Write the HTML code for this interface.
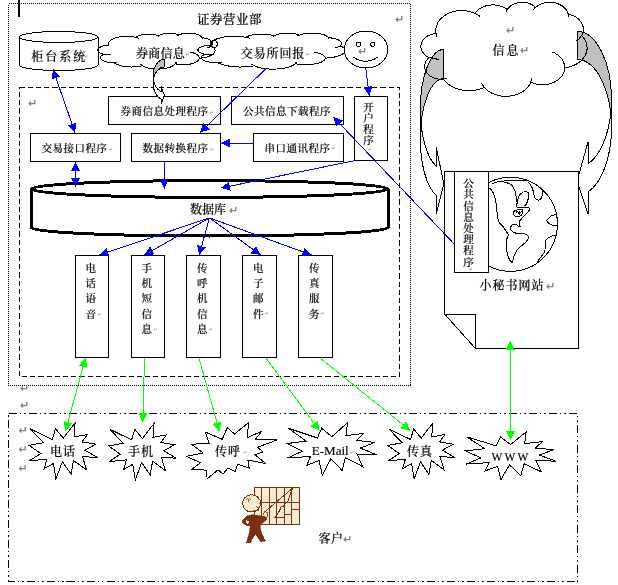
<!DOCTYPE html><html><head><meta charset="utf-8"><style>html,body{margin:0;padding:0;background:#fff;overflow:hidden}svg{display:block}</style></head><body><svg width="618" height="585" viewBox="0 0 618 585" shape-rendering="crispEdges">
<rect x="0" y="0" width="618" height="585" fill="#fff"/>
<rect x="18" y="0" width="2" height="17" fill="#000"/>
<rect x="8.5" y="3.5" width="402.0" height="382.0" fill="none" stroke="#000" stroke-width="1" stroke-dasharray="1 1" shape-rendering="crispEdges"/>
<rect x="19.5" y="87.5" width="380.0" height="289.0" fill="none" stroke="#000" stroke-width="1" stroke-dasharray="5.2 3" shape-rendering="crispEdges"/>
<rect x="8.5" y="413.5" width="569.0" height="168.0" fill="none" stroke="#000" stroke-width="1" stroke-dasharray="8 3 1.5 3 1.5 3" shape-rendering="crispEdges"/>
<path d="M19.5,37 L19.5,65 A39.25,5.5 0 0 0 98,65 L98,37 A39.25,5.5 0 0 0 19.5,37 A39.25,5.5 0 0 0 98,37" fill="#fff" stroke="#000"/>
<path d="M108.6,45.0 L108.4,44.3 L108.4,43.6 L108.6,42.8 L108.9,42.1 L109.4,41.5 L110.0,40.8 L110.8,40.2 L111.7,39.6 L112.7,39.0 L113.9,38.5 L115.2,38.0 L116.5,37.6 L118.0,37.2 L119.5,36.9 L121.1,36.6 L122.8,36.5 L124.5,36.3 L126.2,36.3 L127.9,36.3 L129.6,36.4 L131.2,36.5 L132.8,36.7 L134.4,37.0 L135.9,37.3 L136.5,36.9 L137.1,36.5 L137.8,36.2 L138.6,35.8 L139.4,35.5 L140.3,35.2 L141.3,35.0 L142.2,34.8 L143.3,34.6 L144.3,34.4 L145.4,34.3 L146.5,34.2 L147.6,34.1 L148.7,34.1 L149.8,34.1 L151.0,34.2 L152.0,34.3 L153.1,34.4 L154.2,34.6 L155.2,34.8 L156.2,35.0 L157.1,35.3 L158.0,35.5 L158.8,35.9 L159.3,35.5 L159.9,35.1 L160.5,34.8 L161.2,34.5 L161.9,34.2 L162.7,34.0 L163.6,33.8 L164.4,33.6 L165.4,33.4 L166.3,33.3 L167.3,33.2 L168.3,33.1 L169.3,33.1 L170.3,33.1 L171.3,33.2 L172.2,33.3 L173.2,33.4 L174.1,33.5 L175.0,33.7 L175.9,33.9 L176.7,34.2 L177.5,34.4 L178.2,34.7 L178.8,35.1 L179.6,34.7 L180.6,34.3 L181.6,34.0 L182.6,33.8 L183.7,33.6 L184.9,33.4 L186.1,33.2 L187.3,33.2 L188.6,33.1 L189.8,33.1 L191.0,33.2 L192.2,33.3 L193.4,33.5 L194.6,33.7 L195.7,33.9 L196.7,34.2 L197.6,34.5 L198.5,34.9 L199.3,35.3 L200.0,35.7 L200.6,36.2 L201.1,36.7 L201.5,37.1 L201.8,37.6 L202.8,37.8 L203.7,37.9 L204.6,38.1 L205.5,38.3 L206.4,38.6 L207.2,38.8 L208.0,39.1 L208.7,39.4 L209.4,39.8 L210.0,40.1 L210.5,40.5 L211.0,40.9 L211.4,41.3 L211.7,41.7 L212.0,42.1 L212.2,42.5 L212.4,42.9 L212.4,43.4 L212.4,43.8 L212.3,44.2 L212.2,44.6 L211.9,45.1 L211.6,45.5 L211.3,45.9 L212.2,46.4 L213.0,47.0 L213.6,47.6 L214.2,48.2 L214.6,48.9 L214.9,49.5 L215.0,50.2 L215.0,50.9 L214.9,51.5 L214.6,52.2 L214.2,52.8 L213.7,53.5 L213.0,54.1 L212.2,54.6 L211.3,55.2 L210.3,55.7 L209.2,56.2 L208.0,56.6 L206.7,57.0 L205.3,57.3 L203.9,57.6 L202.4,57.9 L200.9,58.0 L199.3,58.2 L199.2,58.7 L199.0,59.3 L198.7,59.9 L198.3,60.4 L197.7,61.0 L197.1,61.5 L196.3,62.0 L195.5,62.4 L194.5,62.8 L193.5,63.2 L192.4,63.6 L191.2,63.9 L189.9,64.1 L188.6,64.3 L187.3,64.5 L186.0,64.6 L184.6,64.7 L183.2,64.7 L181.8,64.6 L180.5,64.5 L179.1,64.4 L177.8,64.2 L176.5,64.0 L175.3,63.7 L174.8,64.4 L174.0,65.0 L173.2,65.6 L172.2,66.2 L171.0,66.8 L169.8,67.3 L168.4,67.7 L167.0,68.1 L165.5,68.4 L163.9,68.7 L162.2,68.9 L160.5,69.0 L158.8,69.1 L157.1,69.1 L155.4,69.1 L153.7,68.9 L152.0,68.7 L150.4,68.5 L148.9,68.2 L147.4,67.8 L146.1,67.3 L144.8,66.8 L143.7,66.3 L142.6,65.7 L141.4,66.0 L140.2,66.3 L138.9,66.5 L137.6,66.6 L136.2,66.8 L134.8,66.9 L133.5,66.9 L132.1,67.0 L130.7,67.0 L129.3,66.9 L127.9,66.8 L126.6,66.7 L125.3,66.5 L124.0,66.3 L122.7,66.1 L121.5,65.8 L120.3,65.5 L119.2,65.2 L118.1,64.8 L117.1,64.4 L116.1,64.0 L115.3,63.5 L114.5,63.1 L113.7,62.6 L112.5,62.6 L111.3,62.6 L110.1,62.5 L109.0,62.4 L107.8,62.2 L106.8,62.0 L105.7,61.7 L104.8,61.4 L103.9,61.1 L103.1,60.7 L102.4,60.3 L101.8,59.9 L101.3,59.4 L100.9,58.9 L100.7,58.5 L100.6,58.0 L100.5,57.5 L100.7,57.0 L100.9,56.5 L101.2,56.0 L101.7,55.5 L102.3,55.1 L102.9,54.7 L103.7,54.3 L102.7,54.0 L101.7,53.7 L100.9,53.3 L100.1,52.9 L99.4,52.5 L98.9,52.0 L98.5,51.5 L98.1,51.0 L98.0,50.5 L97.9,50.0 L98.0,49.5 L98.2,49.0 L98.5,48.5 L98.9,48.0 L99.5,47.5 L100.2,47.1 L101.0,46.7 L101.8,46.3 L102.8,46.0 L103.8,45.7 L104.9,45.5 L106.1,45.3 L107.2,45.2 L108.5,45.1Z" fill="none" stroke="#000" stroke-width="1"/>
<path d="M110.7,54.8 L109.8,54.8 L108.9,54.8 L108.0,54.8 L107.2,54.7 L106.3,54.6 L105.5,54.5 L104.6,54.3 L103.8,54.1 M116.8,62.1 L116.4,62.1 L116.0,62.2 L115.7,62.2 L115.3,62.3 L114.9,62.3 L114.5,62.4 L114.1,62.4 L113.8,62.4 M142.6,65.6 L142.4,65.4 L142.1,65.2 L141.9,65.1 L141.6,64.9 L141.4,64.7 L141.2,64.5 L141.0,64.3 L140.8,64.1 M176.1,62.0 L176.0,62.2 L176.0,62.4 L175.9,62.6 L175.8,62.8 L175.7,63.0 L175.6,63.2 L175.5,63.4 L175.4,63.6 M190.4,52.1 L192.3,52.6 L194.1,53.2 L195.6,53.8 L196.9,54.6 L197.9,55.4 L198.7,56.3 L199.1,57.2 L199.2,58.1 M211.2,45.8 L210.9,46.1 L210.5,46.4 L210.0,46.7 L209.6,47.0 L209.0,47.3 L208.5,47.5 L207.9,47.8 L207.3,48.0 M201.8,37.5 L201.8,37.7 L201.9,37.8 L201.9,37.9 L202.0,38.0 L202.0,38.2 L202.0,38.3 L202.0,38.4 L202.0,38.6 M176.8,36.3 L177.0,36.1 L177.2,35.9 L177.4,35.8 L177.6,35.6 L177.9,35.4 L178.2,35.3 L178.5,35.1 L178.8,35.0 M158.0,36.9 L158.0,36.8 L158.1,36.6 L158.2,36.5 L158.4,36.3 L158.5,36.2 L158.6,36.1 L158.8,35.9 L158.9,35.8 M135.9,37.3 L136.4,37.4 L136.9,37.6 L137.3,37.7 L137.8,37.8 L138.2,38.0 L138.6,38.1 L139.0,38.3 L139.4,38.5 M109.2,46.2 L109.1,46.0 L109.0,45.9 L108.9,45.7 L108.8,45.6 L108.7,45.4 L108.7,45.3 L108.6,45.1 L108.6,45.0" fill="none" stroke="#000" stroke-width="1"/>
<path d="M211.3,45.0 L211.1,44.3 L211.1,43.6 L211.3,42.8 L211.7,42.1 L212.3,41.5 L213.1,40.8 L214.1,40.2 L215.2,39.6 L216.5,39.0 L218.0,38.5 L219.6,38.0 L221.3,37.6 L223.1,37.2 L225.1,36.9 L227.1,36.6 L229.1,36.5 L231.2,36.3 L233.4,36.3 L235.5,36.3 L237.6,36.4 L239.7,36.5 L241.8,36.7 L243.8,37.0 L245.7,37.3 L246.4,36.9 L247.2,36.5 L248.0,36.2 L249.0,35.8 L250.1,35.5 L251.2,35.2 L252.4,35.0 L253.6,34.8 L254.9,34.6 L256.2,34.4 L257.5,34.3 L258.9,34.2 L260.3,34.1 L261.7,34.1 L263.1,34.1 L264.5,34.2 L265.9,34.3 L267.3,34.4 L268.6,34.6 L269.9,34.8 L271.1,35.0 L272.3,35.3 L273.4,35.5 L274.4,35.9 L275.0,35.5 L275.7,35.1 L276.5,34.8 L277.4,34.5 L278.3,34.2 L279.3,34.0 L280.4,33.8 L281.5,33.6 L282.6,33.4 L283.8,33.3 L285.1,33.2 L286.3,33.1 L287.6,33.1 L288.8,33.1 L290.1,33.2 L291.3,33.3 L292.5,33.4 L293.7,33.5 L294.8,33.7 L295.9,33.9 L296.9,34.2 L297.8,34.4 L298.7,34.7 L299.5,35.1 L300.6,34.7 L301.7,34.3 L303.0,34.0 L304.3,33.8 L305.7,33.6 L307.2,33.4 L308.7,33.2 L310.2,33.2 L311.8,33.1 L313.3,33.1 L314.9,33.2 L316.4,33.3 L317.9,33.5 L319.3,33.7 L320.7,33.9 L322.0,34.2 L323.2,34.5 L324.3,34.9 L325.3,35.3 L326.2,35.7 L326.9,36.2 L327.6,36.7 L328.0,37.1 L328.4,37.6 L329.6,37.8 L330.8,37.9 L332.0,38.1 L333.1,38.3 L334.2,38.6 L335.2,38.8 L336.2,39.1 L337.1,39.4 L337.9,39.8 L338.7,40.1 L339.4,40.5 L340.0,40.9 L340.5,41.3 L340.9,41.7 L341.3,42.1 L341.5,42.5 L341.7,42.9 L341.8,43.4 L341.7,43.8 L341.6,44.2 L341.4,44.6 L341.1,45.1 L340.8,45.5 L340.3,45.9 L341.4,46.4 L342.4,47.0 L343.3,47.6 L344.0,48.2 L344.5,48.9 L344.9,49.5 L345.0,50.2 L345.1,50.9 L344.9,51.5 L344.5,52.2 L344.0,52.8 L343.4,53.5 L342.5,54.1 L341.5,54.6 L340.4,55.2 L339.1,55.7 L337.7,56.2 L336.2,56.6 L334.6,57.0 L332.9,57.3 L331.0,57.6 L329.2,57.9 L327.2,58.0 L325.3,58.2 L325.2,58.7 L324.9,59.3 L324.5,59.9 L324.0,60.4 L323.3,61.0 L322.5,61.5 L321.5,62.0 L320.5,62.4 L319.3,62.8 L318.0,63.2 L316.6,63.6 L315.1,63.9 L313.5,64.1 L311.9,64.3 L310.2,64.5 L308.5,64.6 L306.8,64.7 L305.0,64.7 L303.3,64.6 L301.6,64.5 L299.9,64.4 L298.3,64.2 L296.7,64.0 L295.2,63.7 L294.4,64.4 L293.5,65.0 L292.4,65.6 L291.2,66.2 L289.8,66.8 L288.2,67.3 L286.5,67.7 L284.7,68.1 L282.8,68.4 L280.8,68.7 L278.7,68.9 L276.6,69.0 L274.4,69.1 L272.2,69.1 L270.1,69.1 L268.0,68.9 L265.9,68.7 L263.9,68.5 L261.9,68.2 L260.1,67.8 L258.4,67.3 L256.8,66.8 L255.4,66.3 L254.1,65.7 L252.6,66.0 L251.0,66.3 L249.4,66.5 L247.7,66.6 L246.0,66.8 L244.3,66.9 L242.6,66.9 L240.8,67.0 L239.1,67.0 L237.3,66.9 L235.6,66.8 L233.9,66.7 L232.3,66.5 L230.6,66.3 L229.0,66.1 L227.5,65.8 L226.0,65.5 L224.6,65.2 L223.2,64.8 L222.0,64.4 L220.8,64.0 L219.7,63.5 L218.7,63.1 L217.8,62.6 L216.2,62.6 L214.7,62.6 L213.2,62.5 L211.8,62.4 L210.4,62.2 L209.0,62.0 L207.7,61.7 L206.5,61.4 L205.4,61.1 L204.4,60.7 L203.5,60.3 L202.8,59.9 L202.2,59.4 L201.7,58.9 L201.4,58.5 L201.2,58.0 L201.2,57.5 L201.3,57.0 L201.6,56.5 L202.1,56.0 L202.6,55.5 L203.4,55.1 L204.2,54.7 L205.2,54.3 L203.9,54.0 L202.7,53.7 L201.6,53.3 L200.7,52.9 L199.8,52.5 L199.1,52.0 L198.6,51.5 L198.2,51.0 L198.0,50.5 L197.9,50.0 L198.0,49.5 L198.2,49.0 L198.6,48.5 L199.2,48.0 L199.9,47.5 L200.7,47.1 L201.7,46.7 L202.8,46.3 L204.0,46.0 L205.3,45.7 L206.7,45.5 L208.1,45.3 L209.6,45.2 L211.1,45.1Z" fill="none" stroke="#000" stroke-width="1"/>
<path d="M214.0,54.8 L212.8,54.8 L211.7,54.8 L210.6,54.8 L209.5,54.7 L208.4,54.6 L207.4,54.5 L206.3,54.3 L205.3,54.1 M221.6,62.1 L221.1,62.1 L220.7,62.2 L220.2,62.2 L219.7,62.3 L219.2,62.3 L218.8,62.4 L218.3,62.4 L217.8,62.4 M254.1,65.6 L253.7,65.4 L253.4,65.2 L253.1,65.1 L252.8,64.9 L252.5,64.7 L252.3,64.5 L252.0,64.3 L251.8,64.1 M296.1,62.0 L296.0,62.2 L296.0,62.4 L295.9,62.6 L295.8,62.8 L295.6,63.0 L295.5,63.2 L295.4,63.4 L295.2,63.6 M314.1,52.1 L316.5,52.6 L318.7,53.2 L320.6,53.8 L322.2,54.6 L323.5,55.4 L324.5,56.3 L325.0,57.2 L325.2,58.1 M340.2,45.8 L339.8,46.1 L339.3,46.4 L338.7,46.7 L338.2,47.0 L337.5,47.3 L336.8,47.5 L336.1,47.8 L335.3,48.0 M328.4,37.5 L328.5,37.7 L328.5,37.8 L328.6,37.9 L328.6,38.0 L328.6,38.2 L328.7,38.3 L328.7,38.4 L328.7,38.6 M296.9,36.3 L297.2,36.1 L297.5,35.9 L297.8,35.8 L298.1,35.6 L298.4,35.4 L298.7,35.3 L299.1,35.1 L299.5,35.0 M273.3,36.9 L273.4,36.8 L273.6,36.6 L273.7,36.5 L273.8,36.3 L274.0,36.2 L274.2,36.1 L274.4,35.9 L274.6,35.8 M245.6,37.3 L246.2,37.4 L246.8,37.6 L247.4,37.7 L248.0,37.8 L248.5,38.0 L249.0,38.1 L249.6,38.3 L250.1,38.5 M212.0,46.2 L211.9,46.0 L211.8,45.9 L211.7,45.7 L211.6,45.6 L211.5,45.4 L211.4,45.3 L211.3,45.1 L211.3,45.0" fill="none" stroke="#000" stroke-width="1"/>
<circle cx="213.8" cy="44" r="3.5" fill="none" stroke="#000"/>
<ellipse cx="366" cy="49.5" rx="21.8" ry="18.5" fill="#fff" stroke="#000"/>
<ellipse cx="358.5" cy="44.3" rx="2.2" ry="2" fill="#fff" stroke="#000"/>
<ellipse cx="372.8" cy="44.3" rx="2.2" ry="2" fill="#fff" stroke="#000"/>
<path d="M353,57 Q365.7,65.5 378,57" fill="none" stroke="#000"/>
<rect x="108.5" y="96.5" width="112.0" height="28.0" fill="#fff" stroke="#000" stroke-width="1"/>
<rect x="231.5" y="96.5" width="112.0" height="28.0" fill="#fff" stroke="#000" stroke-width="1"/>
<rect x="354.5" y="96.5" width="33.0" height="64.0" fill="#fff" stroke="#000" stroke-width="1"/>
<rect x="30.5" y="133.5" width="90.0" height="28.0" fill="#fff" stroke="#000" stroke-width="1"/>
<rect x="131.5" y="133.5" width="89.0" height="28.0" fill="#fff" stroke="#000" stroke-width="1"/>
<rect x="253.5" y="133.5" width="90.0" height="28.0" fill="#fff" stroke="#000" stroke-width="1"/>
<path d="M31,189 L31,227.6 A178.5,8.4 0 0 0 388,227.6 L388,189 A178.5,8.4 0 0 0 31,189 A178.5,8.4 0 0 0 388,189" fill="#fff" stroke="#000" stroke-width="3" stroke-linejoin="round"/>
<rect x="75.5" y="255.5" width="33.0" height="102.0" fill="#fff" stroke="#000" stroke-width="1"/>
<rect x="131.5" y="255.5" width="33.0" height="102.0" fill="#fff" stroke="#000" stroke-width="1"/>
<rect x="186.5" y="255.5" width="34.0" height="102.0" fill="#fff" stroke="#000" stroke-width="1"/>
<rect x="242.5" y="255.5" width="34.0" height="102.0" fill="#fff" stroke="#000" stroke-width="1"/>
<rect x="298.5" y="255.5" width="34.0" height="102.0" fill="#fff" stroke="#000" stroke-width="1"/>
<path d="M420.3,109.3 A23.5,59.9 0 0 0 436.3,166.1 L436.3,147.3 L443.8,184.1 L436.3,214.0 L436.3,195.4 A23.5,59.9 0 0 1 420.3,138.6 Z" fill="#fff" stroke="#000"/>
<path d="M443.8,78.7 A23.5,59.9 0 0 0 420.3,138.6 L420.3,109.3 A23.5,59.9 0 0 1 443.8,49.4 Z" fill="#c0c0c0" stroke="#000"/>
<path d="M611.5,99.3 A34.5,68.0 0 0 1 588.0,163.8 L588.0,142.0 L577.0,181.4 L588.0,213.7 L588.0,192.0 A34.5,68.0 0 0 0 611.5,127.5 Z" fill="#fff" stroke="#000"/>
<path d="M577.0,59.5 A34.5,68.0 0 0 1 611.5,127.5 L611.5,99.3 A34.5,68.0 0 0 0 577.0,31.3 Z" fill="#c0c0c0" stroke="#000"/>
<path d="M153.1,75.9 A11.3,16.5 0 0 0 161.0,91.6 L161.0,86.4 L164.4,95.4 L161.0,104.4 L161.0,99.1 A11.3,16.5 0 0 1 153.1,83.4 Z" fill="#fff" stroke="#000"/>
<path d="M164.4,66.9 A11.3,16.5 0 0 0 153.1,83.4 L153.1,75.9 A11.3,16.5 0 0 1 164.4,59.4 Z" fill="#c0c0c0" stroke="#000"/>
<path d="M436.0,33.3 L435.8,31.4 L435.8,29.6 L436.0,27.7 L436.5,25.9 L437.2,24.1 L438.0,22.3 L439.1,20.7 L440.4,19.1 L441.9,17.6 L443.6,16.3 L445.4,15.0 L447.3,13.9 L449.4,13.0 L451.6,12.2 L453.8,11.5 L456.2,11.0 L458.5,10.7 L460.9,10.6 L463.4,10.6 L465.8,10.8 L468.1,11.2 L470.4,11.7 L472.7,12.5 L474.8,13.3 L475.6,12.3 L476.5,11.3 L477.5,10.3 L478.6,9.4 L479.8,8.6 L481.0,7.8 L482.4,7.2 L483.8,6.6 L485.2,6.1 L486.7,5.7 L488.2,5.3 L489.8,5.1 L491.4,5.0 L493.0,4.9 L494.6,5.0 L496.1,5.1 L497.7,5.4 L499.2,5.7 L500.7,6.1 L502.1,6.6 L503.5,7.2 L504.9,7.9 L506.1,8.6 L507.3,9.5 L508.0,8.5 L508.8,7.6 L509.6,6.8 L510.6,6.0 L511.7,5.2 L512.8,4.6 L514.0,4.0 L515.3,3.5 L516.6,3.1 L517.9,2.8 L519.3,2.5 L520.7,2.4 L522.1,2.3 L523.5,2.3 L525.0,2.5 L526.3,2.7 L527.7,3.0 L529.0,3.4 L530.3,3.9 L531.5,4.4 L532.7,5.1 L533.7,5.8 L534.7,6.6 L535.6,7.4 L536.8,6.4 L538.1,5.5 L539.6,4.7 L541.1,4.0 L542.7,3.4 L544.3,3.0 L546.0,2.6 L547.7,2.4 L549.5,2.3 L551.3,2.4 L553.0,2.5 L554.7,2.8 L556.4,3.2 L558.0,3.8 L559.5,4.4 L561.0,5.2 L562.4,6.0 L563.6,7.0 L564.7,8.0 L565.7,9.1 L566.6,10.3 L567.3,11.5 L567.8,12.8 L568.2,14.1 L569.6,14.5 L571.0,14.9 L572.3,15.4 L573.6,15.9 L574.8,16.5 L576.0,17.2 L577.0,18.0 L578.1,18.8 L579.0,19.7 L579.9,20.6 L580.6,21.5 L581.3,22.5 L581.9,23.6 L582.4,24.6 L582.8,25.7 L583.1,26.8 L583.3,27.9 L583.3,29.0 L583.3,30.2 L583.2,31.3 L583.0,32.4 L582.6,33.5 L582.2,34.6 L581.7,35.6 L583.0,37.1 L584.1,38.6 L585.1,40.1 L585.9,41.8 L586.4,43.5 L586.8,45.2 L587.0,46.9 L587.1,48.7 L586.9,50.4 L586.5,52.1 L585.9,53.8 L585.2,55.4 L584.2,57.0 L583.1,58.5 L581.8,60.0 L580.4,61.3 L578.8,62.5 L577.1,63.7 L575.2,64.7 L573.3,65.6 L571.2,66.3 L569.1,66.9 L567.0,67.4 L564.7,67.7 L564.6,69.2 L564.4,70.7 L563.9,72.2 L563.3,73.6 L562.5,75.0 L561.6,76.4 L560.5,77.6 L559.3,78.8 L557.9,79.9 L556.5,80.9 L554.9,81.8 L553.2,82.6 L551.4,83.3 L549.6,83.8 L547.7,84.2 L545.8,84.5 L543.8,84.7 L541.9,84.7 L539.9,84.6 L538.0,84.3 L536.1,84.0 L534.2,83.5 L532.4,82.8 L530.7,82.1 L529.9,83.9 L528.9,85.6 L527.7,87.2 L526.2,88.8 L524.6,90.2 L522.9,91.5 L520.9,92.6 L518.9,93.7 L516.7,94.5 L514.4,95.2 L512.1,95.8 L509.7,96.1 L507.3,96.3 L504.8,96.3 L502.4,96.2 L500.0,95.8 L497.7,95.3 L495.4,94.6 L493.2,93.8 L491.1,92.8 L489.2,91.6 L487.4,90.4 L485.8,89.0 L484.3,87.4 L482.6,88.2 L480.8,88.8 L479.0,89.4 L477.1,89.8 L475.2,90.2 L473.3,90.5 L471.3,90.6 L469.4,90.7 L467.4,90.7 L465.4,90.5 L463.5,90.3 L461.6,90.0 L459.7,89.5 L457.8,89.0 L456.0,88.4 L454.3,87.7 L452.6,86.9 L451.0,86.0 L449.5,85.0 L448.1,84.0 L446.7,82.9 L445.5,81.7 L444.3,80.5 L443.3,79.2 L441.6,79.3 L439.9,79.2 L438.2,79.0 L436.6,78.7 L435.0,78.3 L433.4,77.7 L432.0,77.1 L430.6,76.3 L429.4,75.4 L428.2,74.4 L427.2,73.3 L426.4,72.2 L425.7,71.0 L425.2,69.8 L424.8,68.5 L424.6,67.2 L424.6,65.9 L424.8,64.6 L425.1,63.3 L425.6,62.0 L426.2,60.8 L427.1,59.7 L428.0,58.6 L429.1,57.6 L427.7,56.8 L426.3,56.0 L425.1,55.0 L424.0,54.0 L423.1,52.8 L422.3,51.6 L421.7,50.4 L421.2,49.1 L420.9,47.7 L420.9,46.4 L421.0,45.0 L421.2,43.7 L421.7,42.4 L422.3,41.1 L423.1,39.9 L424.1,38.8 L425.2,37.7 L426.4,36.8 L427.8,35.9 L429.2,35.2 L430.8,34.6 L432.4,34.1 L434.1,33.8 L435.8,33.6Z" fill="none" stroke="#000" stroke-width="1"/>
<path d="M439.0,59.0 L437.8,59.0 L436.5,59.0 L435.2,58.9 L434.0,58.7 L432.8,58.4 L431.6,58.1 L430.4,57.7 L429.3,57.2 M447.6,77.9 L447.1,78.1 L446.6,78.2 L446.1,78.3 L445.5,78.5 L445.0,78.6 L444.5,78.6 L443.9,78.7 L443.4,78.8 M484.3,87.1 L483.9,86.6 L483.6,86.2 L483.2,85.7 L482.9,85.2 L482.6,84.7 L482.3,84.3 L482.0,83.8 L481.8,83.3 M531.8,77.6 L531.7,78.1 L531.6,78.7 L531.5,79.2 L531.4,79.7 L531.3,80.2 L531.1,80.7 L530.9,81.3 L530.7,81.8 M552.1,51.9 L554.9,53.1 L557.3,54.6 L559.5,56.4 L561.3,58.3 L562.8,60.4 L563.8,62.7 L564.4,65.1 L564.6,67.5 M581.6,35.4 L581.1,36.2 L580.6,37.0 L579.9,37.8 L579.3,38.6 L578.5,39.3 L577.8,40.0 L576.9,40.6 L576.0,41.2 M568.3,13.8 L568.3,14.1 L568.4,14.5 L568.5,14.8 L568.5,15.2 L568.5,15.5 L568.5,15.9 L568.6,16.2 L568.6,16.6 M532.7,10.6 L533.0,10.1 L533.3,9.7 L533.6,9.2 L534.0,8.8 L534.4,8.3 L534.8,7.9 L535.2,7.5 L535.6,7.1 M506.1,12.3 L506.2,11.9 L506.3,11.5 L506.5,11.1 L506.6,10.7 L506.8,10.3 L507.0,10.0 L507.2,9.6 L507.5,9.2 M474.8,13.3 L475.5,13.6 L476.1,13.9 L476.8,14.3 L477.4,14.6 L478.0,15.0 L478.6,15.4 L479.2,15.8 L479.8,16.2 M436.9,36.4 L436.7,36.0 L436.6,35.6 L436.5,35.2 L436.3,34.8 L436.2,34.4 L436.1,34.0 L436.1,33.7 L436.0,33.3" fill="none" stroke="#000" stroke-width="1"/>
<path d="M444.5,171.5 L578.5,171.5 L578.5,348.5 L475.5,348.5 L444.5,314 Z" fill="#fff" stroke="#000"/>
<path d="M444.5,314 L475.5,314 L475.5,348.5" fill="none" stroke="#000"/>
<circle cx="510.5" cy="224.3" r="47" fill="#fff" stroke="#000"/>
<clipPath id="gclip"><circle cx="510.5" cy="224.3" r="47"/></clipPath><g clip-path="url(#gclip)"><path d="M488.4,187.9 C492.5,188.8 495.3,196.3 496.7,207.6 C497.2,215.1 497.2,220.8 500.0,223.6 L502.9,226.4 L508.5,234.9 C505.7,239.6 505.3,245.2 507.2,252.7 C508.5,258.4 510.4,262.1 512.3,262.5 C513.2,258.4 514.1,253.7 517.9,249.0 C522.6,244.3 527.3,242.4 528.6,237.7 C528.6,234.9 525.4,233.6 520.7,233.4 C516.0,233.6 511.3,232.4 510.4,228.7 C510.4,225.5 513.2,223.6 516.0,224.2 C517.9,225.5 518.5,227.4 520.4,227.0 C519.8,224.5 518.8,223.0 519.8,220.8 C522.6,217.0 527.3,213.2 529.6,209.9 C529.8,207.6 527.3,207.0 524.5,207.2 C521.7,207.6 518.8,208.5 517.3,207.6 C516.0,204.8 517.0,201.0 518.8,196.3 C520.7,192.6 524.5,191.1 527.9,192.2 C530.1,193.5 528.6,198.2 527.3,202.0 C526.4,204.8 525.4,205.7 523.5,206.1 M492.5,183.5 C498.2,180.9 505.7,181.3 511.3,184.7 C514.7,187.9 516.0,193.5 516.2,198.2 C516.4,201.0 517.0,202.9 517.9,203.8 M503.8,180.7 C511.3,179.8 518.8,179.8 526.7,180.9 M527.9,181.7 C532.0,185.0 533.5,190.7 534.3,196.3 C535.4,200.1 538.6,201.0 540.8,199.1 C542.4,196.3 542.5,192.6 542.0,190.3 M556.6,214.4 C552.7,214.8 548.9,216.6 546.7,220.8 C548.0,223.6 551.8,225.5 556.6,226.0 M555.9,235.4 C550.8,235.8 547.1,237.7 545.2,241.1 C544.8,245.2 546.1,249.0 544.2,252.7 C541.4,256.5 537.7,260.3 536.1,265.0 M513.2,213.2 C513.2,210.4 517.9,209.1 522.6,209.9 C523.5,211.7 522.6,215.1 519.8,216.1 C516.0,216.6 513.2,216.1 513.2,213.2 Z M516.0,212.3 C517.0,211.4 518.8,211.7 518.5,214.2 M519.8,211.4 L519.8,215.1 M519.8,212.9 C520.7,211.7 522.2,211.7 522.6,212.5" fill="none" stroke="#000" stroke-width="1"/></g>
<rect x="454.5" y="171.5" width="34.0" height="101.0" fill="#fff" stroke="#000" stroke-width="1"/>
<polygon points="63.3,438.0 55.5,428.9 52.2,439.4 30.2,428.9 43.7,442.7 29.0,445.3 40.8,453.5 29.4,460.8 47.0,459.1 44.1,468.7 53.5,463.5 55.9,479.0 62.4,461.7 71.1,474.2 73.5,460.5 86.6,469.9 82.5,456.6 97.6,457.5 84.9,450.2 96.0,444.1 82.0,442.0 87.4,434.6 74.0,436.8 75.1,423.0" fill="#fff" stroke="#000" stroke-width="1"/>
<polygon points="142.5,438.5 134.8,429.3 131.6,439.9 109.9,429.3 123.2,443.3 108.7,445.9 120.3,454.2 109.1,461.6 126.4,459.9 123.6,469.5 132.8,464.3 135.3,480.0 141.7,462.5 150.2,475.1 152.6,461.2 165.5,470.8 161.4,457.3 176.3,458.2 163.8,450.8 174.7,444.7 161.0,442.5 166.2,435.0 153.0,437.3 154.1,423.3" fill="#fff" stroke="#000" stroke-width="1"/>
<polygon points="234.5,434.0 227.2,427.6 222.3,439.3 205.4,432.1 209.0,443.1 191.4,444.3 203.0,452.9 186.5,456.3 200.5,462.8 191.9,469.2 206.6,470.2 207.1,479.0 218.0,469.9 223.0,474.1 227.9,468.0 235.2,471.8 237.5,464.2 249.1,468.0 247.8,460.1 265.6,463.4 255.1,454.8 263.0,452.1 257.7,447.2 277.0,440.0 255.1,439.7 261.9,431.0 247.4,437.8 248.5,422.7" fill="#fff" stroke="#000" stroke-width="1"/>
<polygon points="331.9,436.7 321.7,428.3 317.4,438.0 288.4,428.3 306.2,441.1 286.9,443.6 302.4,451.2 287.5,458.0 310.5,456.4 306.8,465.4 319.1,460.5 322.3,475.0 330.8,458.9 342.2,470.5 345.4,457.7 362.6,466.5 357.1,454.0 377.0,454.9 360.3,448.1 374.9,442.4 356.6,440.4 363.6,433.5 345.9,435.6 347.5,422.7" fill="#fff" stroke="#000" stroke-width="1"/>
<polygon points="421.3,438.1 413.7,429.0 410.5,439.5 388.9,429.0 402.2,442.8 387.8,445.4 399.3,453.6 388.2,460.9 405.4,459.2 402.6,468.7 411.7,463.5 414.1,479.0 420.5,461.8 428.9,474.2 431.3,460.5 444.1,469.9 440.0,456.6 454.8,457.5 442.4,450.2 453.2,444.2 439.6,442.0 444.8,434.6 431.7,436.9 432.8,423.1" fill="#fff" stroke="#000" stroke-width="1"/>
<polygon points="510.6,444.6 500.4,436.9 496.0,445.8 466.9,436.9 484.8,448.7 465.4,450.9 481.0,457.9 466.0,464.1 489.1,462.6 485.3,470.8 497.7,466.4 500.9,479.6 509.5,464.9 520.8,475.5 524.1,463.8 541.3,471.8 535.9,460.4 555.8,461.2 539.1,455.0 553.7,449.8 535.3,448.0 542.3,441.7 524.6,443.6 526.2,431.8" fill="#fff" stroke="#000" stroke-width="1"/>
<rect x="254.1" y="487.2" width="44.9" height="37.3" fill="#f7ecd2" stroke="#7b3010" stroke-width="1"/>
<path d="M261.1,487.2 L261.1,524.5 M269.7,487.2 L269.7,524.5 M276.9,487.2 L276.9,524.5 M284.1,487.2 L284.1,524.5 M291.2,487.2 L291.2,524.5 M261.1,502.1 L299.0,502.1 M291.2,509.3 L299.0,509.3 M276.9,517.7 L284.1,517.7 M284.1,514.1 L291.2,514.1" fill="none" stroke="#7b3010" stroke-width="1"/>
<path d="M264.9,511.7 L292.4,488.4 L287.7,501.5 L284.7,503.9 L283.5,506.3 L281.1,506.9 L279.3,511.1 L274.5,518.3" fill="none" stroke="#7b3010" stroke-width="1"/>
<path d="M247.0,515.9 L252.9,514.5 L258.9,515.7 L264.9,516.5 L267.1,518.1 L266.4,520.1 L263.7,521.9 L260.7,524.0 L260.1,527.9 L261.9,533.8 L264.3,539.2 L265.9,540.8 L260.7,541.7 L257.7,537.4 L255.6,534.1 L251.8,539.8 L250.6,542.5 L246.4,542.5 L247.6,538.6 L249.4,532.7 L250.0,527.9 L250.3,526.1 L247.9,525.7 L245.2,524.9 L242.2,522.5 L242.8,520.1 L245.2,517.7 Z" fill="#7b3010" stroke="#7b3010" stroke-width="0.6"/>
<path d="M246.7,520.1 L249.1,521.9 L247.9,524.0 L245.5,522.1 Z" fill="#f7ecd2"/>
<path d="M264.3,511.7 L267.3,512.3 L267.9,515.9 L265.5,517.1 L263.7,515.3 Z" fill="#f7ecd2" stroke="#7b3010" stroke-width="0.8"/>
<ellipse cx="251.6" cy="503.4" rx="9" ry="8.6" fill="#f7ecd2" stroke="#7b3010" stroke-width="1"/>
<path d="M246.4,499.1 C247.6,497.9 248.8,499.7 248.2,501.5 M249.4,497.9 L250.6,500.3 M255.9,505.7 C257.1,508.1 258.9,508.1 260.1,506.9 M252.9,509.9 C254.7,511.4 257.1,511.4 258.9,509.9 M258.9,503.3 L260.7,504.5 L259.5,505.7" fill="none" stroke="#7b3010" stroke-width="0.8"/>
<line x1="53.0" y1="69.4" x2="75.0" y2="132.6" stroke="#0000ff" stroke-width="1"/>
<polygon points="75.0,132.6 67.8,125.6 76.3,122.6" fill="#0000ff"/>
<polygon points="53.0,69.4 60.2,76.4 51.7,79.4" fill="#0000ff"/>
<line x1="266.0" y1="68.6" x2="200.0" y2="132.6" stroke="#0000ff" stroke-width="1"/>
<polygon points="200.0,132.6 203.3,123.1 209.6,129.6" fill="#0000ff"/>
<line x1="253.5" y1="143.0" x2="221.0" y2="143.0" stroke="#0000ff" stroke-width="1"/>
<polygon points="221.0,143.0 230.0,138.5 230.0,147.5" fill="#0000ff"/>
<line x1="365.7" y1="68.0" x2="369.2" y2="95.7" stroke="#0000ff" stroke-width="1"/>
<polygon points="369.2,95.7 363.6,87.3 372.5,86.2" fill="#0000ff"/>
<line x1="354.8" y1="160.6" x2="221.0" y2="188.0" stroke="#0000ff" stroke-width="1"/>
<polygon points="221.0,188.0 228.9,181.8 230.7,190.6" fill="#0000ff"/>
<line x1="454.0" y1="243.8" x2="333.4" y2="117.0" stroke="#0000ff" stroke-width="1"/>
<polygon points="333.4,117.0 342.9,120.4 336.3,126.6" fill="#0000ff"/>
<line x1="75.6" y1="162.0" x2="75.6" y2="187.0" stroke="#0000ff" stroke-width="1"/>
<polygon points="75.6,187.0 71.1,178.0 80.1,178.0" fill="#0000ff"/>
<polygon points="75.6,162.0 80.1,171.0 71.1,171.0" fill="#0000ff"/>
<line x1="164.4" y1="162.0" x2="164.4" y2="188.6" stroke="#0000ff" stroke-width="1"/>
<polygon points="164.4,188.6 159.9,179.6 168.9,179.6" fill="#0000ff"/>
<line x1="209.4" y1="217.9" x2="99.3" y2="255.0" stroke="#0000ff" stroke-width="1"/>
<polygon points="99.3,255.0 106.4,247.9 109.3,256.4" fill="#0000ff"/>
<line x1="209.4" y1="217.9" x2="144.5" y2="255.0" stroke="#0000ff" stroke-width="1"/>
<polygon points="144.5,255.0 150.1,246.6 154.5,254.4" fill="#0000ff"/>
<line x1="209.4" y1="217.9" x2="199.2" y2="255.0" stroke="#0000ff" stroke-width="1"/>
<polygon points="199.2,255.0 197.2,245.1 205.9,247.5" fill="#0000ff"/>
<line x1="209.4" y1="217.9" x2="260.7" y2="255.0" stroke="#0000ff" stroke-width="1"/>
<polygon points="260.7,255.0 250.8,253.4 256.0,246.1" fill="#0000ff"/>
<line x1="209.4" y1="217.9" x2="311.5" y2="255.0" stroke="#0000ff" stroke-width="1"/>
<polygon points="311.5,255.0 301.5,256.2 304.6,247.7" fill="#0000ff"/>
<line x1="85.5" y1="358.0" x2="65.5" y2="431.0" stroke="#00ff00" stroke-width="1"/>
<polygon points="65.5,431.0 63.5,421.1 72.2,423.5" fill="#00ff00"/>
<polygon points="85.5,358.0 87.5,367.9 78.8,365.5" fill="#00ff00"/>
<line x1="144.5" y1="358.0" x2="142.8" y2="422.4" stroke="#00ff00" stroke-width="1"/>
<polygon points="142.8,422.4 138.5,413.3 147.5,413.5" fill="#00ff00"/>
<line x1="199.0" y1="358.0" x2="219.4" y2="431.5" stroke="#00ff00" stroke-width="1"/>
<polygon points="219.4,431.5 212.7,424.0 221.3,421.6" fill="#00ff00"/>
<line x1="266.0" y1="358.0" x2="319.5" y2="430.6" stroke="#00ff00" stroke-width="1"/>
<polygon points="319.5,430.6 310.5,426.0 317.8,420.7" fill="#00ff00"/>
<line x1="320.0" y1="358.0" x2="410.4" y2="430.6" stroke="#00ff00" stroke-width="1"/>
<polygon points="410.4,430.6 400.6,428.5 406.2,421.5" fill="#00ff00"/>
<line x1="510.3" y1="340.5" x2="510.3" y2="440.0" stroke="#00ff00" stroke-width="1"/>
<polygon points="510.3,440.0 505.8,431.0 514.8,431.0" fill="#00ff00"/>
<polygon points="510.3,340.5 514.8,349.5 505.8,349.5" fill="#00ff00"/>
<g style="filter:grayscale(1)">
<text x="59.3" y="60.5" font-size="12" text-anchor="middle" font-weight="500" stroke="#000" stroke-width="0.15" font-family='"Liberation Serif","Noto Serif CJK SC",serif' letter-spacing="2" >柜台系统</text>
<text x="160.5" y="58.0" font-size="12" text-anchor="middle" font-weight="500" stroke="#000" stroke-width="0.15" font-family='"Liberation Serif","Noto Serif CJK SC",serif' letter-spacing="0.2" >券商信息</text>
<text x="273.0" y="58.0" font-size="12" text-anchor="middle" font-weight="500" stroke="#000" stroke-width="0.15" font-family='"Liberation Serif","Noto Serif CJK SC",serif' letter-spacing="0.9" >交易所回报</text>
<text x="229.5" y="23.5" font-size="12.5" text-anchor="middle" font-weight="500" stroke="#000" stroke-width="0.15" font-family='"Liberation Serif","Noto Serif CJK SC",serif' letter-spacing="0.5" >证券营业部</text>
<text x="164.5" y="114.5" font-size="10.5" text-anchor="middle" font-weight="500" stroke="#000" stroke-width="0.15" font-family='"Liberation Serif","Noto Serif CJK SC",serif' letter-spacing="0.5" >券商信息处理程序</text>
<text x="287.0" y="114.5" font-size="10.5" text-anchor="middle" font-weight="500" stroke="#000" stroke-width="0.15" font-family='"Liberation Serif","Noto Serif CJK SC",serif' letter-spacing="0.5" >公共信息下载程序</text>
<text x="368.5" y="110.5" font-size="10.5" text-anchor="middle" font-weight="500" stroke="#000" stroke-width="0.15" font-family='"Liberation Serif","Noto Serif CJK SC",serif' >开</text>
<text x="368.5" y="121.5" font-size="10.5" text-anchor="middle" font-weight="500" stroke="#000" stroke-width="0.15" font-family='"Liberation Serif","Noto Serif CJK SC",serif' >户</text>
<text x="368.5" y="132.5" font-size="10.5" text-anchor="middle" font-weight="500" stroke="#000" stroke-width="0.15" font-family='"Liberation Serif","Noto Serif CJK SC",serif' >程</text>
<text x="368.5" y="143.5" font-size="10.5" text-anchor="middle" font-weight="500" stroke="#000" stroke-width="0.15" font-family='"Liberation Serif","Noto Serif CJK SC",serif' >序</text>
<text x="74.5" y="152.3" font-size="10.5" text-anchor="middle" font-weight="500" stroke="#000" stroke-width="0.15" font-family='"Liberation Serif","Noto Serif CJK SC",serif' letter-spacing="0.5" >交易接口程序</text>
<text x="175.5" y="152.3" font-size="10.5" text-anchor="middle" font-weight="500" stroke="#000" stroke-width="0.15" font-family='"Liberation Serif","Noto Serif CJK SC",serif' letter-spacing="0.5" >数据转换程序</text>
<text x="297.5" y="152.3" font-size="10.5" text-anchor="middle" font-weight="500" stroke="#000" stroke-width="0.15" font-family='"Liberation Serif","Noto Serif CJK SC",serif' letter-spacing="0.5" >串口通讯程序</text>
<text x="208.0" y="214.0" font-size="12" text-anchor="middle" font-weight="500" stroke="#000" stroke-width="0.15" font-family='"Liberation Serif","Noto Serif CJK SC",serif' >数据库</text>
<text x="90.7" y="271.5" font-size="10.5" text-anchor="middle" font-weight="500" stroke="#000" stroke-width="0.15" font-family='"Liberation Serif","Noto Serif CJK SC",serif' >电</text>
<text x="90.7" y="286.9" font-size="10.5" text-anchor="middle" font-weight="500" stroke="#000" stroke-width="0.15" font-family='"Liberation Serif","Noto Serif CJK SC",serif' >话</text>
<text x="90.7" y="302.3" font-size="10.5" text-anchor="middle" font-weight="500" stroke="#000" stroke-width="0.15" font-family='"Liberation Serif","Noto Serif CJK SC",serif' >语</text>
<text x="90.7" y="317.7" font-size="10.5" text-anchor="middle" font-weight="500" stroke="#000" stroke-width="0.15" font-family='"Liberation Serif","Noto Serif CJK SC",serif' >音</text>
<text x="146.7" y="271.5" font-size="10.5" text-anchor="middle" font-weight="500" stroke="#000" stroke-width="0.15" font-family='"Liberation Serif","Noto Serif CJK SC",serif' >手</text>
<text x="146.7" y="286.9" font-size="10.5" text-anchor="middle" font-weight="500" stroke="#000" stroke-width="0.15" font-family='"Liberation Serif","Noto Serif CJK SC",serif' >机</text>
<text x="146.7" y="302.3" font-size="10.5" text-anchor="middle" font-weight="500" stroke="#000" stroke-width="0.15" font-family='"Liberation Serif","Noto Serif CJK SC",serif' >短</text>
<text x="146.7" y="317.7" font-size="10.5" text-anchor="middle" font-weight="500" stroke="#000" stroke-width="0.15" font-family='"Liberation Serif","Noto Serif CJK SC",serif' >信</text>
<text x="146.7" y="333.1" font-size="10.5" text-anchor="middle" font-weight="500" stroke="#000" stroke-width="0.15" font-family='"Liberation Serif","Noto Serif CJK SC",serif' >息</text>
<text x="202.2" y="271.5" font-size="10.5" text-anchor="middle" font-weight="500" stroke="#000" stroke-width="0.15" font-family='"Liberation Serif","Noto Serif CJK SC",serif' >传</text>
<text x="202.2" y="286.9" font-size="10.5" text-anchor="middle" font-weight="500" stroke="#000" stroke-width="0.15" font-family='"Liberation Serif","Noto Serif CJK SC",serif' >呼</text>
<text x="202.2" y="302.3" font-size="10.5" text-anchor="middle" font-weight="500" stroke="#000" stroke-width="0.15" font-family='"Liberation Serif","Noto Serif CJK SC",serif' >机</text>
<text x="202.2" y="317.7" font-size="10.5" text-anchor="middle" font-weight="500" stroke="#000" stroke-width="0.15" font-family='"Liberation Serif","Noto Serif CJK SC",serif' >信</text>
<text x="202.2" y="333.1" font-size="10.5" text-anchor="middle" font-weight="500" stroke="#000" stroke-width="0.15" font-family='"Liberation Serif","Noto Serif CJK SC",serif' >息</text>
<text x="258.2" y="271.5" font-size="10.5" text-anchor="middle" font-weight="500" stroke="#000" stroke-width="0.15" font-family='"Liberation Serif","Noto Serif CJK SC",serif' >电</text>
<text x="258.2" y="286.9" font-size="10.5" text-anchor="middle" font-weight="500" stroke="#000" stroke-width="0.15" font-family='"Liberation Serif","Noto Serif CJK SC",serif' >子</text>
<text x="258.2" y="302.3" font-size="10.5" text-anchor="middle" font-weight="500" stroke="#000" stroke-width="0.15" font-family='"Liberation Serif","Noto Serif CJK SC",serif' >邮</text>
<text x="258.2" y="317.7" font-size="10.5" text-anchor="middle" font-weight="500" stroke="#000" stroke-width="0.15" font-family='"Liberation Serif","Noto Serif CJK SC",serif' >件</text>
<text x="314.2" y="271.5" font-size="10.5" text-anchor="middle" font-weight="500" stroke="#000" stroke-width="0.15" font-family='"Liberation Serif","Noto Serif CJK SC",serif' >传</text>
<text x="314.2" y="286.9" font-size="10.5" text-anchor="middle" font-weight="500" stroke="#000" stroke-width="0.15" font-family='"Liberation Serif","Noto Serif CJK SC",serif' >真</text>
<text x="314.2" y="302.3" font-size="10.5" text-anchor="middle" font-weight="500" stroke="#000" stroke-width="0.15" font-family='"Liberation Serif","Noto Serif CJK SC",serif' >服</text>
<text x="314.2" y="317.7" font-size="10.5" text-anchor="middle" font-weight="500" stroke="#000" stroke-width="0.15" font-family='"Liberation Serif","Noto Serif CJK SC",serif' >务</text>
<text x="506.5" y="54.8" font-size="12" text-anchor="middle" font-weight="500" stroke="#000" stroke-width="0.15" font-family='"Liberation Serif","Noto Serif CJK SC",serif' letter-spacing="2" >信息</text>
<text x="468.5" y="187.0" font-size="10.5" text-anchor="middle" font-weight="500" stroke="#000" stroke-width="0.15" font-family='"Liberation Serif","Noto Serif CJK SC",serif' >公</text>
<text x="468.5" y="198.2" font-size="10.5" text-anchor="middle" font-weight="500" stroke="#000" stroke-width="0.15" font-family='"Liberation Serif","Noto Serif CJK SC",serif' >共</text>
<text x="468.5" y="209.5" font-size="10.5" text-anchor="middle" font-weight="500" stroke="#000" stroke-width="0.15" font-family='"Liberation Serif","Noto Serif CJK SC",serif' >信</text>
<text x="468.5" y="220.7" font-size="10.5" text-anchor="middle" font-weight="500" stroke="#000" stroke-width="0.15" font-family='"Liberation Serif","Noto Serif CJK SC",serif' >息</text>
<text x="468.5" y="232.0" font-size="10.5" text-anchor="middle" font-weight="500" stroke="#000" stroke-width="0.15" font-family='"Liberation Serif","Noto Serif CJK SC",serif' >处</text>
<text x="468.5" y="243.2" font-size="10.5" text-anchor="middle" font-weight="500" stroke="#000" stroke-width="0.15" font-family='"Liberation Serif","Noto Serif CJK SC",serif' >理</text>
<text x="468.5" y="254.4" font-size="10.5" text-anchor="middle" font-weight="500" stroke="#000" stroke-width="0.15" font-family='"Liberation Serif","Noto Serif CJK SC",serif' >程</text>
<text x="468.5" y="265.7" font-size="10.5" text-anchor="middle" font-weight="500" stroke="#000" stroke-width="0.15" font-family='"Liberation Serif","Noto Serif CJK SC",serif' >序</text>
<text x="512.0" y="290.0" font-size="12" text-anchor="middle" font-weight="500" stroke="#000" stroke-width="0.15" font-family='"Liberation Serif","Noto Serif CJK SC",serif' letter-spacing="1" >小秘书网站</text>
<text x="63.0" y="455.5" font-size="12" text-anchor="middle" font-weight="500" stroke="#000" stroke-width="0.15" font-family='"Liberation Serif","Noto Serif CJK SC",serif' letter-spacing="1" >电话</text>
<text x="141.0" y="455.5" font-size="12" text-anchor="middle" font-weight="500" stroke="#000" stroke-width="0.15" font-family='"Liberation Serif","Noto Serif CJK SC",serif' letter-spacing="1" >手机</text>
<text x="228.0" y="455.5" font-size="12" text-anchor="middle" font-weight="500" stroke="#000" stroke-width="0.15" font-family='"Liberation Serif","Noto Serif CJK SC",serif' letter-spacing="1" >传呼</text>
<text x="330.2" y="454.8" font-size="13.1" text-anchor="middle" font-weight="500" stroke="#000" stroke-width="0.15" font-family='"Liberation Serif","Noto Serif CJK SC",serif' >E-Mail</text>
<text x="420.0" y="456.0" font-size="12" text-anchor="middle" font-weight="500" stroke="#000" stroke-width="0.15" font-family='"Liberation Serif","Noto Serif CJK SC",serif' letter-spacing="1" >传真</text>
<text x="511.0" y="460.8" font-size="11.5" text-anchor="middle" font-weight="500" stroke="#000" stroke-width="0.15" font-family='"Liberation Serif","Noto Serif CJK SC",serif' letter-spacing="2.2" >WWW</text>
<text x="331.0" y="543.0" font-size="12" text-anchor="middle" font-weight="500" stroke="#000" stroke-width="0.15" font-family='"Liberation Serif","Noto Serif CJK SC",serif' letter-spacing="0.5" >客户</text>
<text x="28.0" y="107.0" font-size="11.0" fill="#808080" font-weight="bold" font-family='"DejaVu Sans",sans-serif'>↵</text>
<text x="358.0" y="55.0" font-size="11.0" fill="#808080" font-weight="bold" font-family='"DejaVu Sans",sans-serif'>↵</text>
<text x="520.0" y="54.0" font-size="11.0" fill="#808080" font-weight="bold" font-family='"DejaVu Sans",sans-serif'>↵</text>
<text x="229.0" y="213.5" font-size="11.0" fill="#808080" font-weight="bold" font-family='"DejaVu Sans",sans-serif'>↵</text>
<text x="546.0" y="290.0" font-size="11.0" fill="#808080" font-weight="bold" font-family='"DejaVu Sans",sans-serif'>↵</text>
<text x="343.0" y="542.5" font-size="11.0" fill="#808080" font-weight="bold" font-family='"DejaVu Sans",sans-serif'>↵</text>
<text x="20.0" y="392.0" font-size="11.0" fill="#808080" font-weight="bold" font-family='"DejaVu Sans",sans-serif'>↵</text>
<text x="20.0" y="409.0" font-size="11.0" fill="#808080" font-weight="bold" font-family='"DejaVu Sans",sans-serif'>↵</text>
<text x="18.5" y="433.5" font-size="11.0" fill="#808080" font-weight="bold" font-family='"DejaVu Sans",sans-serif'>↵</text>
<text x="18.5" y="453.0" font-size="11.0" fill="#808080" font-weight="bold" font-family='"DejaVu Sans",sans-serif'>↵</text>
<text x="18.5" y="472.0" font-size="11.0" fill="#808080" font-weight="bold" font-family='"DejaVu Sans",sans-serif'>↵</text>
<text x="395.0" y="23.0" font-size="11.0" fill="#808080" font-weight="bold" font-family='"DejaVu Sans",sans-serif'>↵</text>
<text x="506.0" y="34.0" font-size="11.0" fill="#808080" font-weight="bold" font-family='"DejaVu Sans",sans-serif'>↵</text>
<text x="84.5" y="58.0" font-size="4.6" fill="#909090" font-weight="bold" font-family='"DejaVu Sans",sans-serif'>↵</text>
<text x="185.5" y="55.5" font-size="4.6" fill="#909090" font-weight="bold" font-family='"DejaVu Sans",sans-serif'>↵</text>
<text x="306.0" y="55.5" font-size="4.6" fill="#909090" font-weight="bold" font-family='"DejaVu Sans",sans-serif'>↵</text>
<text x="209.5" y="114.0" font-size="4.6" fill="#909090" font-weight="bold" font-family='"DejaVu Sans",sans-serif'>↵</text>
<text x="109.0" y="151.0" font-size="4.6" fill="#909090" font-weight="bold" font-family='"DejaVu Sans",sans-serif'>↵</text>
<text x="210.0" y="150.5" font-size="4.6" fill="#909090" font-weight="bold" font-family='"DejaVu Sans",sans-serif'>↵</text>
<text x="331.5" y="150.0" font-size="4.6" fill="#909090" font-weight="bold" font-family='"DejaVu Sans",sans-serif'>↵</text>
<text x="368.0" y="151.0" font-size="4.6" fill="#909090" font-weight="bold" font-family='"DejaVu Sans",sans-serif'>↵</text>
<text x="97.5" y="315.5" font-size="4.6" fill="#909090" font-weight="bold" font-family='"DejaVu Sans",sans-serif'>↵</text>
<text x="153.5" y="330.5" font-size="4.6" fill="#909090" font-weight="bold" font-family='"DejaVu Sans",sans-serif'>↵</text>
<text x="209.0" y="330.5" font-size="4.6" fill="#909090" font-weight="bold" font-family='"DejaVu Sans",sans-serif'>↵</text>
<text x="265.0" y="315.0" font-size="4.6" fill="#909090" font-weight="bold" font-family='"DejaVu Sans",sans-serif'>↵</text>
<text x="320.5" y="315.0" font-size="4.6" fill="#909090" font-weight="bold" font-family='"DejaVu Sans",sans-serif'>↵</text>
<text x="243.5" y="453.5" font-size="4.6" fill="#909090" font-weight="bold" font-family='"DejaVu Sans",sans-serif'>↵</text>
<text x="350.0" y="453.5" font-size="4.6" fill="#909090" font-weight="bold" font-family='"DejaVu Sans",sans-serif'>↵</text>
<text x="469.0" y="270.5" font-size="4.6" fill="#909090" font-weight="bold" font-family='"DejaVu Sans",sans-serif'>↵</text>
</g>
</svg></body></html>
